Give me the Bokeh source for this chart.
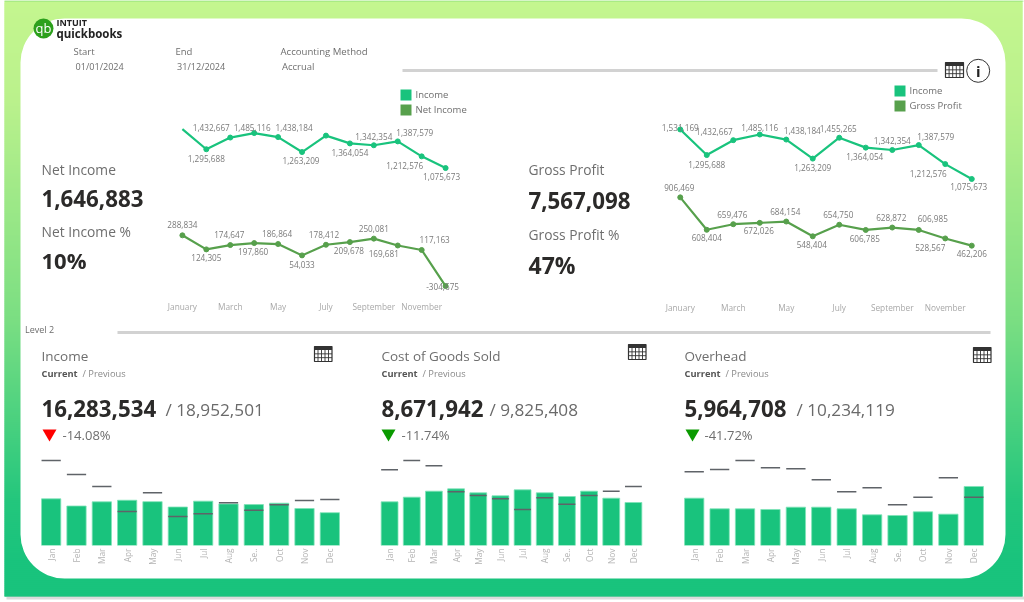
from bokeh.plotting import figure
from bokeh.models import Range1d, FactorRange, FixedTicker, Column, BoxAnnotation
from bokeh.core.properties import value
from bokeh.embed import file_html
from bokeh.resources import INLINE
import math

FONT = "Open Sans"
# ---------- data ----------
months = ["January","February","March","April","May","June","July","August","September","October","November","December"]
month_ticks = {0:"January",2:"March",4:"May",6:"July",8:"September",10:"November"}
bar_months = ["Jan","Feb","Mar","Apr","May","Jun","Jul","Aug","Se..","Oct","Nov","Dec"]

income = [1531169,1295688,1432667,1485116,1438184,1263209,1455265,1364054,1342354,1387579,1212576,1075673]
net_income = [288834,124305,174647,197860,186864,54033,178412,209678,250081,169681,117163,-304675]
gross_profit = [906469,608404,659476,672026,684154,548404,654750,606785,628872,606985,528567,462206]

income_prev = [2789000,2330000,1936000,1116000,1728000,952000,1039000,1400000,1159000,1334000,1476000,1509000]
cogs_cur = [623600,690200,775900,809200,752100,709200,794900,752100,699700,775900,675900,614000]
cogs_prev = [1080500,1213800,1137600,766400,714000,666400,514100,680700,590200,714000,775900,842500]
over_cur = [578500,448100,448100,440000,468500,468500,448100,374800,366700,411500,383000,721100]
over_prev = [900400,928900,1038900,949200,937000,802600,655900,704800,497000,590700,827000,590700]

# label offsets (screen px) relative to each point
li_dx=[0,0,-19,-2,16,-1,0,0,0,17,-17,-4]; li_dy=[0,9,-10,-6,-10,8,0,9,-9,-9,9,8]
ln_dx=[0,0,-1,-1,-1,0,-2,-1,0,-14,13,-3]; ln_dy=[-11,8,-11,8,-11,9,-10,8,-10,8,-10,0]
ri_dx=[0,0,-19,0,16,0,-1,-1,0,17,-17,-3]; ri_dy=[-2,9,-9,-7,-9,9,-9,9,-9,-9,9,8]
rg_dx=[-1,0,-1,-1,-1,-1,-1,-1,-1,14,-15,0]; rg_dy=[-10,8,-10,8,-10,8,-10,9,-10,-11,9,8]

GREEN="#19C37D"; DGREEN="#57A04C"; TXT="#6E6E6E"; DARK="#2B2A29"; LAB="#7A7A7A"; AXT="#A8A8A8"

def place(left, top):
    return {"position":"absolute","left":f"{left}px","top":f"{top}px"}

# ---------- background ----------
bg = figure(width=1024, height=602, x_range=Range1d(0,1024), y_range=Range1d(602,0),
            x_axis_type=None, y_axis_type=None, toolbar_location=None, output_backend="svg",
            min_border=0, outline_line_color=None, background_fill_color="white", border_fill_color="white",
            styles=place(0,0))
bg.grid.visible=False

stops=[(0,(196,246,143)),(100,(186,241,140)),(320,(122,222,130)),(500,(35,198,125)),(560,(25,195,125)),(596,(25,195,125))]
def grad(y):
    for (a,ca),(b,cb) in zip(stops,stops[1:]):
        if a<=y<=b:
            t=(y-a)/(b-a)
            return "#%02x%02x%02x"%tuple(round(ca[i]+t*(cb[i]-ca[i])) for i in range(3))
ys=list(range(0,596,2))
bg.quad(left=4,right=1022,top=ys,bottom=[min(y+4,596) for y in ys],fill_color=[grad(y) for y in ys],line_alpha=0)
bg.quad(left=6,right=1024,top=596,bottom=599,fill_color="#999999",fill_alpha=.35,line_alpha=0)
bg.quad(left=4,right=1023,top=0,bottom=1,fill_color="#8ee07a",line_alpha=0)
bg.add_layout(BoxAnnotation(left=20,right=1005,top=18,bottom=578,fill_color="white",fill_alpha=1,line_alpha=0,border_radius=44,level="glyph"))

def txt(x,y,s,size,color=TXT,style="normal",align="left",font=FONT):
    r=bg.text(x=[x],y=[y],text=[s],text_font=value(font),text_font_size=f"{size}px",text_color=color,
           text_font_style=style,text_baseline="middle",text_align=align,level="overlay")
    return r

def line2(x0,x1,y,w=3,c="#D2D2D2"):
    bg.segment(x0=[x0],x1=[x1],y0=[y],y1=[y],line_color=c,line_width=w,level="overlay")

def table_icon(x0,y0,w=18,h=15):
    bg.quad(left=x0,right=x0+w,top=y0,bottom=y0+h,fill_color="white",line_color="#333333",line_width=1.2,level="overlay")
    bg.quad(left=x0,right=x0+w,top=y0,bottom=y0+3.5,fill_color="#333333",line_alpha=0,level="overlay")
    for i in range(1,5):
        xx=x0+i*w/5
        bg.segment(x0=[xx],x1=[xx],y0=[y0+3],y1=[y0+h],line_color="#333333",line_width=.9,level="overlay")
    for i in range(1,3):
        yy=y0+3.5+i*(h-3.5)/3
        bg.segment(x0=[x0],x1=[x0+w],y0=[yy],y1=[yy],line_color="#333333",line_width=.9,level="overlay")

# logo
bg.circle(x=[43],y=[28],radius=10,fill_color="#2CA01C",line_alpha=0,level="overlay")
txt(43,27.5,"qb",13,"white",align="center")
txt(56,21.5,"INTUIT",9,"#222222","bold")
txt(56,33,"quickbooks",11.5,"#222222","bold")

# header
for x,yy,s,sz in [(73,51,"Start",9.5),(75,65.5,"01/01/2024",9.1),(175,51,"End",9.5),(176.5,65.5,"31/12/2024",9.1),
               (280,51,"Accounting Method",9.6),(281.5,65.5,"Accrual",9.5)]:
    txt(x,yy,s,sz)
line2(402,937,70)
line2(117,990,332)
txt(24.5,328.5,"Level 2",9)
table_icon(945,62)
bg.circle(x=[977.7],y=[70.3],radius=11.5,fill_color="white",line_color="#333333",line_width=1,level="overlay")
txt(977.7,70,"i",15,"#222222","bold",align="center")

# legends
for x,yy,s,c in [(400,89,"Income",GREEN),(400,104,"Net Income",DGREEN),(894,85,"Income",GREEN),(894,100,"Gross Profit",DGREEN)]:
    bg.quad(left=x,right=x+11,top=yy,bottom=yy+11,fill_color=c,line_alpha=0,level="overlay")
    txt(x+15,yy+5,s,9.5)

# KPIs
txt(41,168.5,"Net Income",13.8); txt(41,197.5,"1,646,883",22.3,DARK,"bold")
txt(41,230.5,"Net Income %",13.8); txt(41,259.5,"10%",22,DARK,"bold")
txt(528,168.5,"Gross Profit",13.8); txt(528,199.5,"7,567,098",22.3,DARK,"bold")
txt(528,233.5,"Gross Profit %",13.8); txt(528,264.5,"47%",23,DARK,"bold")

# cards
cards=[(41,"Income","16,283,534","/ 18,952,501",165,"-14.08%","#FF0000",49,62,314,346),
       (381,"Cost of Goods Sold","8,671,942","/ 9,825,408",489,"-11.74%","#0A9A00",388,401,628,344),
       (684,"Overhead","5,964,708","/ 10,234,119",796,"-41.72%","#0A9A00",692,704,973,347)]
for x,t,cur,prev,px,pct,col,tx,ptx,ix,iy in cards:
    txt(x,355.5,t,13.5)
    txt(x,373,"Current",9.3,"#555555","bold")
    txt(x+41,373,"/ Previous",9.3,"#8A8A8A")
    txt(x,408,cur,22.3,DARK,"bold")
    txt(px,409,prev,17.2,"#6A6A6A")
    bg.scatter(x=[tx],y=[433],marker="inverted_triangle",size=14,fill_color=col,line_alpha=0,level="overlay")
    txt(ptx,434,pct,13)
    table_icon(ix,iy,17.5,15)

# ---------- line charts ----------
def line_chart(left,step,y0px,scale,top,bottom,standoff,a,ac,adx,ady,b,bc,bdx,bdy,skip=(),nodot=()):
    fw=round(step*14); fh=bottom-top
    p=figure(frame_width=fw,frame_height=fh,x_range=Range1d(-1.5,12.5),
             y_range=Range1d((y0px-bottom)*scale,(y0px-top)*scale),y_axis_type=None,
             toolbar_location=None,output_backend="svg",min_border=0,outline_line_color=None,
             background_fill_color=None,border_fill_color=None,styles=place(left-1.5*step,top))
    p.grid.visible=False
    ax=p.xaxis[0]
    ax.ticker=FixedTicker(ticks=list(month_ticks)); ax.major_label_overrides=month_ticks
    ax.axis_line_color=None; ax.major_tick_line_color=None; ax.minor_tick_line_color=None
    ax.major_tick_out=0; ax.major_tick_in=0
    ax.major_label_text_font=FONT; ax.major_label_text_font_size="8.3px"; ax.major_label_text_color=AXT
    ax.major_label_standoff=standoff
    xs=list(range(12))
    for vals,c,dx,dy,sk,nd in [(a,ac,adx,ady,skip,nodot),(b,bc,bdx,bdy,(),())]:
        p.line(xs,vals,line_color=c,line_width=2.2)
        dots=[i for i in xs if i not in nd]
        p.scatter(dots,[vals[i] for i in dots],size=5,fill_color=c,line_color=c)
        idx=[i for i in xs if i not in sk]
        p.text(x=idx,y=[vals[i] for i in idx],text=[f"{vals[i]:,}" for i in idx],
               x_offset=[dx[i] for i in idx],y_offset=[dy[i] for i in idx],
               text_font=value(FONT),text_font_size="8.2px",text_color=LAB,
               text_align="center",text_baseline="middle")
    return p

left_chart=line_chart(182,23.9,259.5,11700,120,295,5,income,GREEN,li_dx,li_dy,net_income,DGREEN,ln_dx,ln_dy,skip=(0,6),nodot=(0,))
right_chart=line_chart(680,26.5,295.4,9200,115,297,4,income,GREEN,ri_dx,ri_dy,gross_profit,DGREEN,rg_dx,rg_dy)

# ---------- bar charts ----------
def bar_chart(left,step,scale,cur,prev):
    top=450; fh=95
    p=figure(frame_width=round(step*12),frame_height=fh,x_range=FactorRange(factors=bar_months,range_padding=0),
             y_range=Range1d(0,fh*scale),y_axis_type=None,toolbar_location=None,output_backend="svg",
             min_border=0,outline_line_color=None,background_fill_color=None,border_fill_color=None,
             styles=place(left-step/2,top))
    p.grid.visible=False
    p.vbar(x=bar_months,top=cur,width=.76,fill_color=GREEN,line_color="#7FE3B8",line_width=.8)
    p.rect(x=bar_months,y=prev,width=.76,height=1.5,height_units="screen",fill_color="#5F6368",line_alpha=0)
    ax=p.xaxis[0]
    ax.axis_line_color=None; ax.major_tick_line_color=None; ax.minor_tick_line_color=None
    ax.major_tick_out=0; ax.major_tick_in=0
    ax.major_label_orientation=math.pi/2
    ax.major_label_text_font=FONT; ax.major_label_text_font_size="8.3px"; ax.major_label_text_color="#B4B4B4"
    ax.major_label_standoff=3
    return p

b1=bar_chart(50.65,25.3,32811,income,income_prev)
b2=bar_chart(389,22.15,14280,cogs_cur,cogs_prev)
b3=bar_chart(693.35,25.4,12222,over_cur,over_prev)

root=Column(children=[bg,left_chart,right_chart,b1,b2,b3],width=1024,height=602,
            styles={"position":"fixed","left":"0px","top":"0px"})
open("out.html","w").write(file_html(root,INLINE))
